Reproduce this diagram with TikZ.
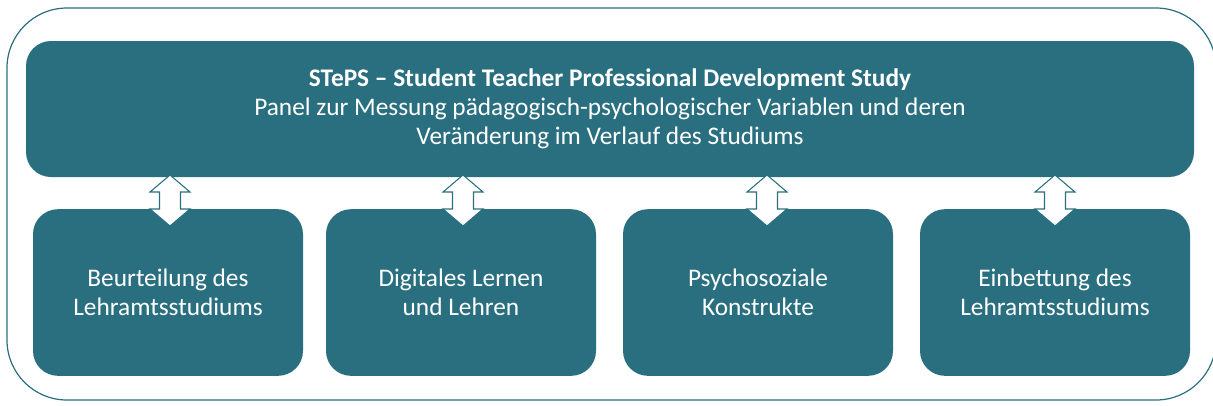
\documentclass[tikz,border=0pt]{standalone}
\usepackage{fontspec}
\setmainfont{Carlito}
\definecolor{stepsteal}{RGB}{42,111,128}

\begin{document}
\begin{tikzpicture}[x=0.75pt,y=-0.75pt,
	panel/.style={fill=stepsteal, rounded corners=18.75pt, text=white, align=center, inner sep=0pt, font=\fontsize{19}{21.75}\selectfont},
	updown/.pic={\draw[stepsteal, fill=white, line width=0.8pt] (0,-25.5) -- (20,-8.5) -- (10.5,-8.5) -- (10.5,8.5) -- (20,8.5) -- (0,25.5) -- (-20,8.5) -- (-10.5,8.5) -- (-10.5,-8.5) -- (-20,-8.5) -- cycle;}]
	\useasboundingbox (0,0) rectangle (1213,405);
	\draw[stepsteal, line width=0.9pt, rounded corners=45pt] (7,8) rectangle (1216,400);
	\node[panel, minimum width=876pt, minimum height=102pt] (steps) at (610,109) {\textbf{STePS -- Student Teacher Professional Development Study}\\Panel zur Messung pädagogisch-psychologischer Variablen und deren\\Veränderung im Verlauf des Studiums};
	\begin{scope}[every node/.append style={panel, minimum width=202.5pt, minimum height=125pt}]
		\node (beurt) at (168,292.5) {Beurteilung des\\Lehramtsstudiums};
		\node (digit) at (461,292.5) {Digitales Lernen\\und Lehren};
		\node (psych) at (758,292.5) {Psychosoziale\\Konstrukte};
		\node (einb) at (1055,292.5) {Einbettung des\\Lehramtsstudiums};
	\end{scope}
	\pic at (170,200.5) {updown};
	\pic at (463,200.5) {updown};
	\pic at (767,200.5) {updown};
	\pic at (1055,200.5) {updown};
\end{tikzpicture}
\end{document}
